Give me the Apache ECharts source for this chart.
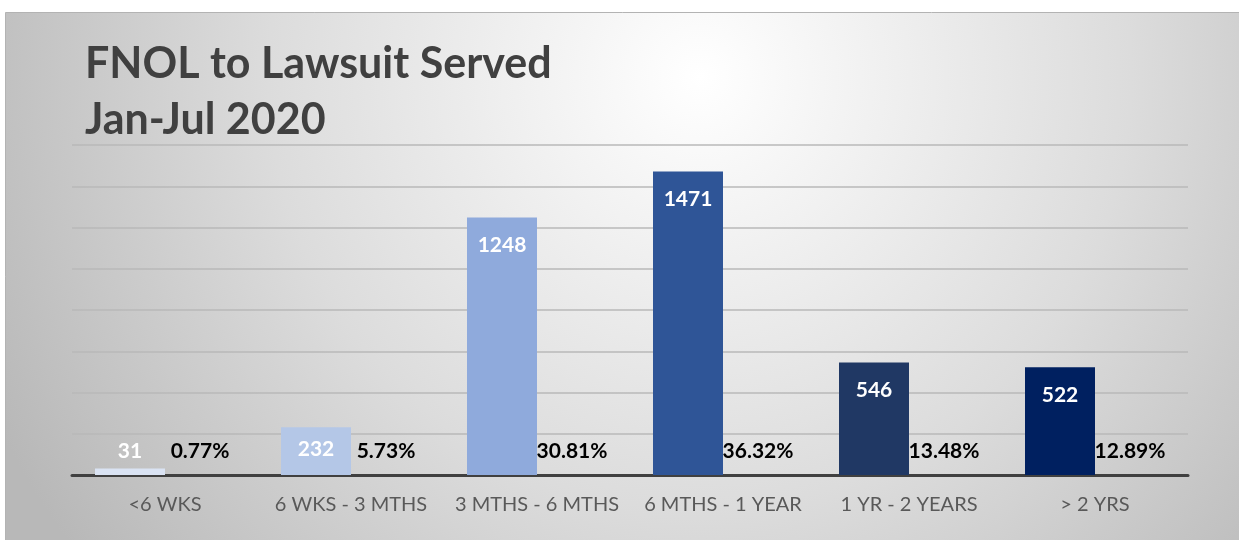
<!DOCTYPE html>
<html>
<head>
<meta charset="utf-8">
<script src="https://cdn.jsdelivr.net/npm/echarts@6/dist/echarts.min.js"></script>
<style>
  html, body { margin: 0; padding: 0; background: #ffffff; }
  #chart { width: 1239px; height: 540px; }
</style>
</head>
<body>
<div id="chart"></div>
<script>
const categories = ['<6 WKS', '6 WKS - 3 MTHS', '3 MTHS - 6 MTHS', '6 MTHS - 1 YEAR', '1 YR - 2 YEARS', '> 2 YRS'];
const counts = [31, 232, 1248, 1471, 546, 522];
const percents = [0.77, 5.73, 30.81, 36.32, 13.48, 12.89];
const yTicks = { min: 0, max: 1600, interval: 200 };
const titleLines = ['FNOL to Lawsuit Served', 'Jan-Jul 2020'];

const barColors = ['#dae3f3', '#b4c7e7', '#8faadc', '#2f5597', '#203864', '#002060'];

const chart = echarts.init(document.getElementById('chart'), null, { renderer: 'canvas' });

const countData = counts.map((v, i) => {
  const item = { value: v, itemStyle: { color: barColors[i] } };
  if (v < 100) {
    item.label = { position: 'top', distance: 7 };
  } else if (v < 300) {
    item.label = { distance: 12 };
  }
  return item;
});

const option = {
  animation: false,
  backgroundColor: '#ffffff',
  graphic: [
    {
      type: 'rect',
      z: -10,
      silent: true,
      shape: { x: 5.5, y: 12.5, width: 1240, height: 540 },
      style: {
        fill: new echarts.graphic.RadialGradient(0.56, 0.12, 1.45, [
          { offset: 0, color: '#ffffff' },
          { offset: 0.55, color: '#dcdcdc' },
          { offset: 1, color: '#b8b8b8' }
        ]),
        stroke: '#b3b3b3',
        lineWidth: 1
      }
    }
  ],
  title: {
    text: titleLines.join('\n'),
    left: 80,
    top: 31,
    textStyle: {
      fontFamily: 'Lato',
      fontWeight: 'bold',
      fontSize: 43,
      lineHeight: 56,
      color: '#404040'
    }
  },
  grid: { left: 72, right: 51, top: 145, bottom: 65 },
  xAxis: {
    type: 'category',
    data: categories,
    axisTick: { show: false },
    axisLine: { lineStyle: { color: '#404040', width: 3 } },
    axisLabel: {
      interval: 0,
      color: '#595959',
      fontFamily: 'Lato',
      fontSize: 20,
      margin: 20
    }
  },
  yAxis: {
    type: 'value',
    min: yTicks.min,
    max: yTicks.max,
    interval: yTicks.interval,
    axisLabel: { show: false },
    axisLine: { show: false },
    axisTick: { show: false },
    splitLine: { lineStyle: { color: '#b8b8b8', width: 1.5 } }
  },
  series: [
    {
      name: 'Count',
      type: 'bar',
      barWidth: 70,
      barGap: '0%',
      data: countData,
      label: {
        show: true,
        position: 'insideTop',
        distance: 17,
        color: '#ffffff',
        fontFamily: 'Lato',
        fontWeight: 'bold',
        fontSize: 21
      }
    },
    {
      name: 'Percent',
      type: 'bar',
      barWidth: 70,
      data: percents,
      itemStyle: { color: 'rgba(0,0,0,0)' },
      label: {
        show: true,
        position: 'insideBottom',
        distance: 13,
        color: '#000000',
        fontFamily: 'Lato',
        fontWeight: 'bold',
        fontSize: 21,
        formatter: p => p.value.toFixed(2) + '%'
      }
    }
  ]
};

chart.setOption(option);
</script>
</body>
</html>
